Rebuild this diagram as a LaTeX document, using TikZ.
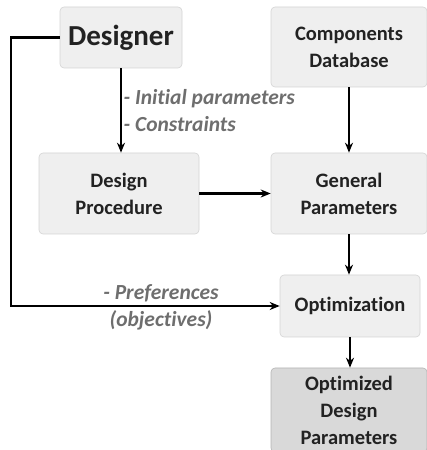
\documentclass[tikz,border=0pt]{standalone}
\usepackage{fontspec}
\setmainfont{Carlito}[Ligatures=NoCommon]
\usetikzlibrary{arrows.meta,positioning}
\definecolor{boxfill}{HTML}{EFEFEF}
\definecolor{boxline}{HTML}{D4D4D4}
\definecolor{outfill}{HTML}{D9D9D9}
\definecolor{outline}{HTML}{B4B4B4}
\definecolor{boxtext}{HTML}{222222}
\definecolor{lbltext}{HTML}{6E6E6E}

\begin{document}
\begin{tikzpicture}[x=1pt,y=1pt,->,>={Stealth[length=10pt,width=8pt]},line width=2.4pt,
  block/.style={draw=boxline, fill=boxfill, line width=0.6pt, rounded corners=4pt,
    align=center, text=boxtext, inner sep=0pt,
    font=\fontsize{20.5}{27}\selectfont\bfseries},
  outblock/.style={block, draw=outline, fill=outfill},
  lbl/.style={text=lbltext, inner sep=1.5pt,
    font=\fontsize{21.5}{27}\selectfont\bfseries\itshape}]
  \useasboundingbox (0,0) rectangle (427,450);
  \node (designer) [block, minimum width=122, minimum height=61,
    font=\fontsize{29}{30}\selectfont\bfseries] at (121,412.5) {Designer};
  \node (compdb)   [block, minimum width=156, minimum height=80]  at (349,403)   {Components\\Database};
  \node (proc)     [block, minimum width=160, minimum height=81]  at (119,256.5) {Design\\Procedure};
  \node (genpar)   [block, minimum width=156, minimum height=81]  at (349,256.5) {General\\Parameters};
  \node (optim)    [block, minimum width=140, minimum height=62]  at (350,144)   {Optimization};
  \node (optpar)   [outblock, minimum width=156, minimum height=84] at (349,40)  {Optimized\\Design\\Parameters};
  \node (pref)     [lbl, align=center] at (161,143) {- Preferences\\(objectives)};

  \draw (designer.south) -- node[lbl, right, align=left] {- Initial parameters\\- Constraints}
        (designer.south |- proc.north);
  \draw (compdb.south) -- (compdb.south |- genpar.north);
  \draw (proc.east) -- (genpar.west);
  \draw (genpar.south) -- (genpar.south |- optim.north);
  \draw (optim.south) -- (optim.south |- optpar.north);
  \draw (designer.west) -- ++(-49,0) |- (optim.west);
\end{tikzpicture}
\end{document}
